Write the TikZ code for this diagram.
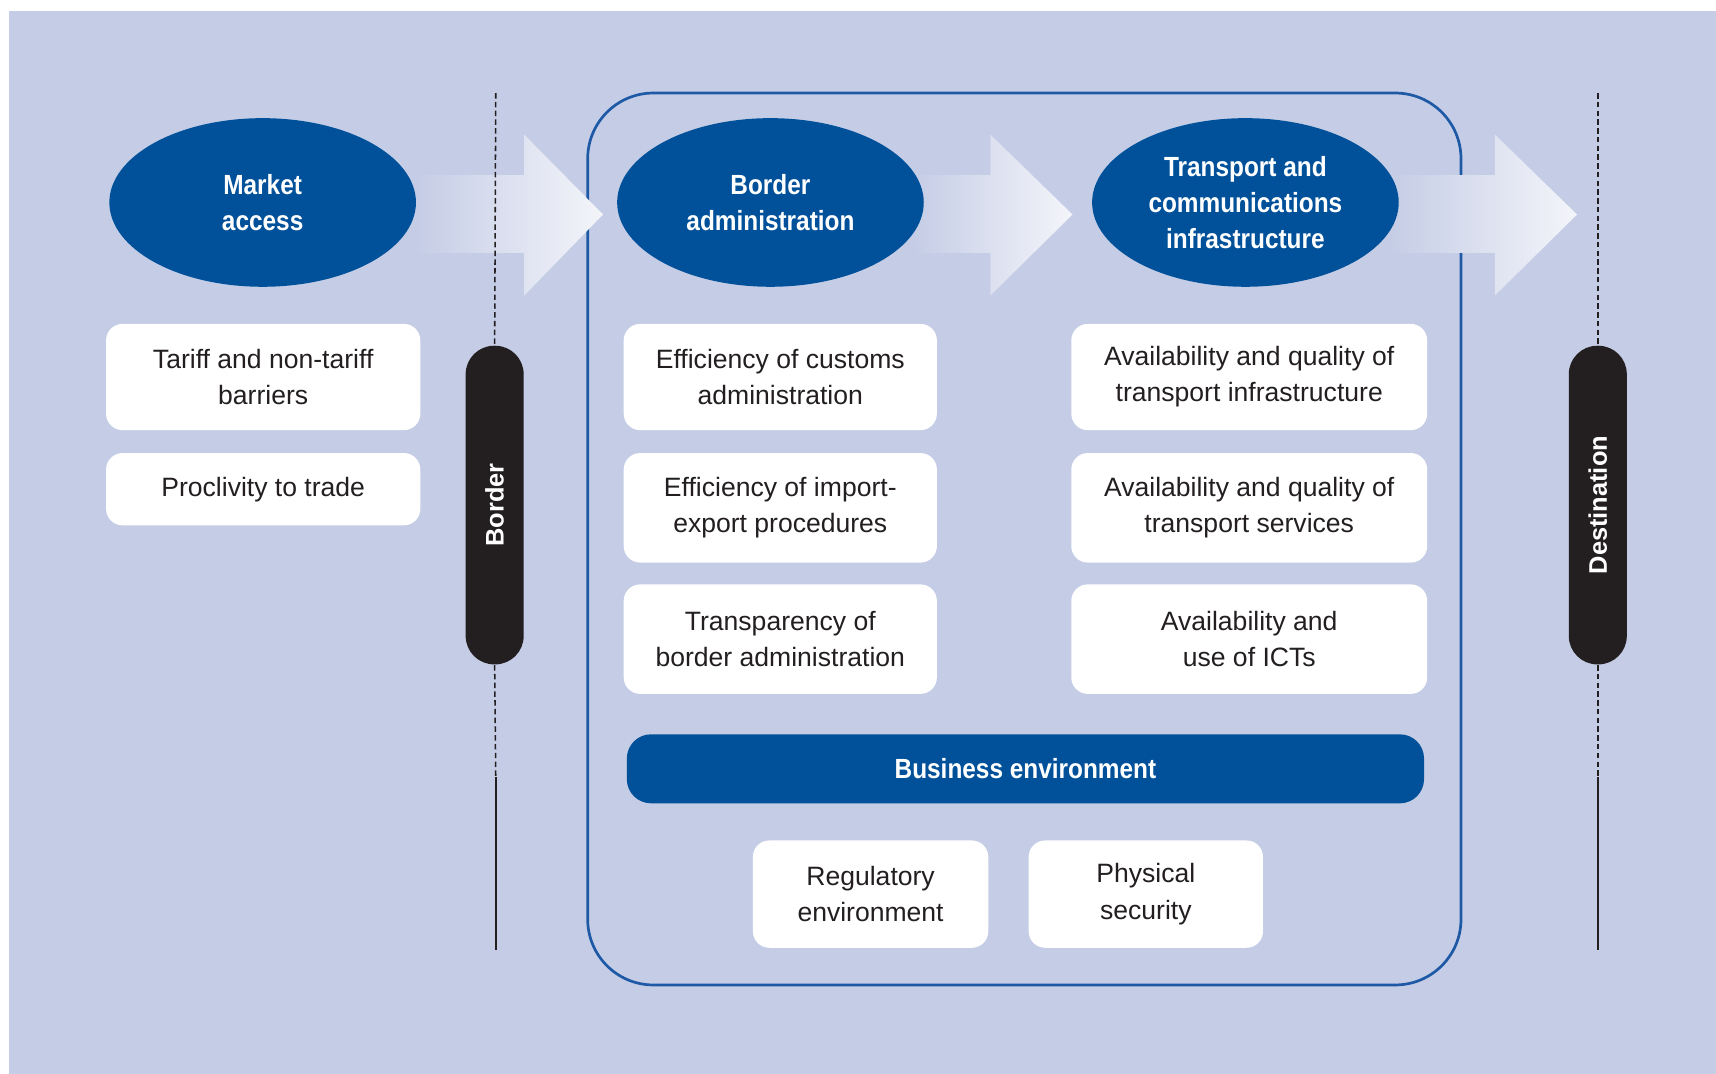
\documentclass[tikz,border=0pt]{standalone}
\usepackage{fontspec}
\setmainfont{Liberation Sans}
\newfontfamily\headfont{Liberation Sans}[FakeStretch=0.88]
\usetikzlibrary{shapes.geometric}
\definecolor{bg}{HTML}{C5CDE6}
\definecolor{deepblue}{HTML}{00519A}
\definecolor{frameblue}{HTML}{1E59A6}
\definecolor{ink}{HTML}{231F20}
\definecolor{paleend}{HTML}{F4F5FA}
\begin{document}
\begin{tikzpicture}[x=0.01cm, y=-0.01cm]
            \tikzstyle{stage}=[ellipse, fill=deepblue, text=white, minimum width=2.8cm, minimum height=1.54cm, inner sep=0pt, align=center, font=\headfont\bfseries\fontsize{7.2}{9.4}\selectfont]
            \tikzstyle{factor}=[fill=white, text=ink, rounded corners=0.15cm, inner sep=0pt, align=center, font=\fontsize{6.9}{9.4}\selectfont]
            \tikzstyle{gate}=[fill=ink, text=white, rotate=90, rounded corners=0.26cm, minimum width=2.91cm, minimum height=0.53cm, inner sep=0pt, font=\bfseries\fontsize{6.6}{8}\selectfont]
            \tikzstyle{limit}=[ink, line width=0.4pt]
            \tikzstyle{flow}=[left color=bg, right color=paleend]
            \fill [white] (0, 0) rectangle (1568, 981);
            \fill [bg] (8, 10) rectangle (1568, 981);
            \draw [frameblue, line width=0.7pt, rounded corners=0.6cm] (537, 85) rectangle (1335, 900);
            \shade [flow] (380, 160) -- (479, 160) -- (479, 123) -- (551, 196) -- (479, 270) -- (479, 231) -- (380, 231) -- cycle;
            \shade [flow] (835, 160) -- (905, 160) -- (905, 123) -- (980, 196) -- (905, 270) -- (905, 231) -- (835, 231) -- cycle;
            \shade [flow] (1270, 160) -- (1366, 160) -- (1366, 123) -- (1441, 196) -- (1366, 270) -- (1366, 231) -- (1270, 231) -- cycle;
            \node [gate] (border) at (452, 461.5) {Border};
            \node [gate] (destination) at (1460, 461.5) {Destination};
            \coordinate (bordertop) at (453, 85);
            \coordinate (bordermid) at (453, 710);
            \coordinate (borderend) at (453, 868);
            \coordinate (desttop) at (1460, 85);
            \coordinate (destmid) at (1460, 710);
            \coordinate (destend) at (1460, 868);
            \draw [limit, dash pattern=on 0.05cm off 0.03cm] (bordertop) -- (border.east);
            \draw [limit, dash pattern=on 0.05cm off 0.03cm] (border.west) -- (bordermid);
            \draw [limit] (bordermid) -- (borderend);
            \draw [limit, dash pattern=on 0.05cm off 0.03cm] (desttop) -- (destination.east);
            \draw [limit, dash pattern=on 0.05cm off 0.03cm] (destination.west) -- (destmid);
            \draw [limit] (destmid) -- (destend);
            \node [stage] (market) at (240, 185) {Market\\access};
            \node [stage] (admin) at (704, 185) {Border\\administration};
            \node [stage] (transport) at (1138, 185) {Transport and\\communications\\infrastructure};
            \node [factor, minimum width=2.87cm, minimum height=0.97cm] (tariff) at (240.5, 344.5) {Tariff and non-tariff\\barriers};
            \node [factor, minimum width=2.87cm, minimum height=0.66cm] (proclivity) at (240.5, 447) {Proclivity to trade};
            \node [factor, minimum width=2.86cm, minimum height=0.97cm] (customs) at (713, 344.5) {Efficiency of customs\\administration};
            \node [factor, minimum width=2.86cm, minimum height=1cm] (procedures) at (713, 464) {Efficiency of import-\\export procedures};
            \node [factor, minimum width=2.86cm, minimum height=1cm] (transparency) at (713, 584) {Transparency of\\border administration};
            \node [factor, minimum width=3.25cm, minimum height=0.97cm] (infrastructure) at (1141.5, 344.5) {Availability and quality of\\transport infrastructure};
            \node [factor, minimum width=3.25cm, minimum height=1cm] (services) at (1141.5, 464) {Availability and quality of\\transport services};
            \node [factor, minimum width=3.25cm, minimum height=1cm] (icts) at (1141.5, 584) {Availability and\\use of ICTs};
            \node [fill=deepblue, text=white, rounded corners=0.22cm, minimum width=7.28cm, minimum height=0.63cm, inner sep=0pt, font=\headfont\bfseries\fontsize{7.2}{9.4}\selectfont] (business) at (937, 702.5) {Business environment};
            \node [factor, minimum width=2.15cm, minimum height=0.98cm] (regulatory) at (795.5, 817) {Regulatory\\environment};
            \node [factor, minimum width=2.14cm, minimum height=0.98cm] (security) at (1047, 817) {Physical\\security};
\end{tikzpicture}
\end{document}
